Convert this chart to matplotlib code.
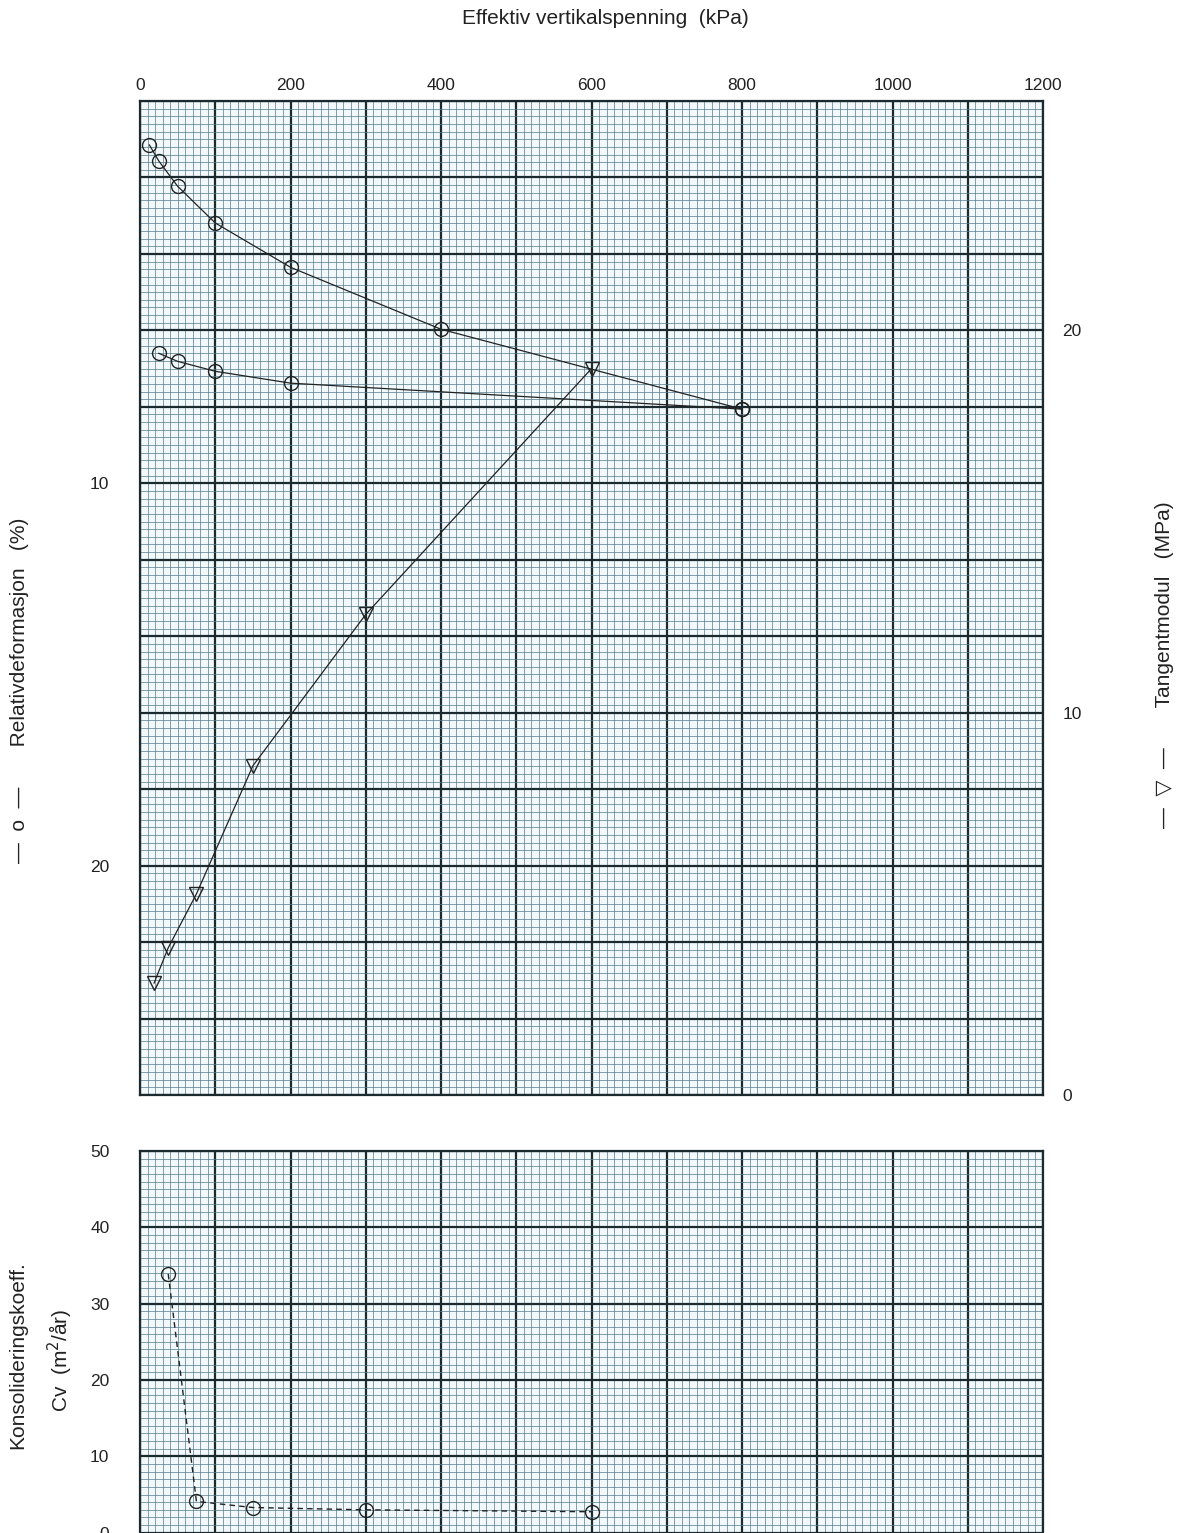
import matplotlib
matplotlib.use("Agg")
import matplotlib.pyplot as plt
from matplotlib.ticker import MultipleLocator, FixedLocator, FuncFormatter

plt.rcParams['font.family'] = ['Liberation Sans', 'DejaVu Sans']

# ---- data ----
stress_load = [12.5, 25, 50, 100, 200, 400, 800]
strain_load = [1.15, 1.57, 2.23, 3.19, 4.35, 5.97, 8.06]
stress_unload = [800, 200, 100, 50, 25]
strain_unload = [8.06, 7.38, 7.07, 6.81, 6.60]

stress_mod = [600, 300, 150, 75, 37.5, 18.75]
tangent_mod = [19.0, 12.57, 8.61, 5.26, 3.85, 2.93]

stress_cv = [37.5, 75, 150, 300, 600]
cv_values = [33.9, 4.1, 3.3, 3.0, 2.75]

x_labels = [0, 200, 400, 600, 800, 1000, 1200]
left_labels = [10, 20]
right_labels = [0, 10, 20]
cv_labels = [0, 10, 20, 30, 40, 50]

W, H = 1188, 1533
fig = plt.figure(figsize=(W / 100, H / 100), dpi=100)

bg = '#f3f9fb'
minor_c = '#557d8e'
major_c = '#1b2a2e'
ink = '#222222'
mk = dict(markersize=10, markerfacecolor='none', markeredgecolor=ink, markeredgewidth=1.0)

L, R = 140, 1043


def frac(x0, y0, x1, y1):
    return [x0 / W, 1 - y1 / H, (x1 - x0) / W, (y1 - y0) / H]


def style_grid(ax, xmaj, xmin, ymaj, ymin):
    ax.set_facecolor(bg)
    ax.xaxis.set_major_locator(MultipleLocator(xmaj))
    ax.xaxis.set_minor_locator(MultipleLocator(xmin))
    ax.yaxis.set_major_locator(MultipleLocator(ymaj))
    ax.yaxis.set_minor_locator(MultipleLocator(ymin))
    ax.grid(which='minor', color=minor_c, lw=0.6, alpha=0.85)
    ax.grid(which='major', color=major_c, lw=1.6)
    ax.set_axisbelow(True)
    ax.tick_params(which='both', length=0)
    for s in ax.spines.values():
        s.set_color(major_c)
        s.set_linewidth(1.6)


# ---- top axes ----
ax = fig.add_axes(frac(L, 101, R, 1095))
ax.set_xlim(0, 1200)
ax.set_ylim(26, 0)
style_grid(ax, 100, 10, 2, 0.2)
ax.xaxis.tick_top()
ax.xaxis.set_major_formatter(FuncFormatter(lambda v, p: f"{int(round(v))}" if int(round(v)) in x_labels else ""))
ax.yaxis.set_major_formatter(FuncFormatter(lambda v, p: f"{int(round(v))}" if int(round(v)) in left_labels else ""))
ax.tick_params(axis='x', which='major', labelsize=12.5, pad=6, colors=ink)
ax.tick_params(axis='y', which='major', labelsize=12.5, pad=22, colors=ink)

ax.plot(stress_load, strain_load, '-', color=ink, lw=0.9, marker='o', **mk)
ax.plot(stress_unload, strain_unload, '-', color=ink, lw=0.9, marker='o', **mk)

ax2 = ax.twinx()
ax2.set_ylim(0, 26)
ax2.yaxis.set_major_locator(FixedLocator(right_labels))
ax2.tick_params(axis='y', length=0, labelsize=12.5, pad=14, colors=ink)
for s in ax2.spines.values():
    s.set_visible(False)
ax2.plot(stress_mod, tangent_mod, '-', color=ink, lw=0.9, marker='v', **mk)

# ---- bottom axes ----
bx = fig.add_axes(frac(L, 1151, R, 1548))
bx.set_xlim(0, 1200)
bx.set_ylim(-2, 50)
style_grid(bx, 100, 10, 10, 1)
bx.spines['bottom'].set_visible(False)
bx.yaxis.set_major_locator(FixedLocator(cv_labels))
bx.set_xticklabels([])
bx.tick_params(axis='y', which='major', labelsize=12.5, pad=22, colors=ink)
bx.plot(stress_cv, cv_values, '--', color=ink, lw=1.0, marker='o', dashes=(4, 3), **mk)

# ---- labels ----
fig.text(605 / W, 1 - 18 / H, "Effektiv vertikalspenning  (kPa)", ha='center', va='center',
         fontsize=15, color=ink)
fig.text(20 / W, 1 - 690 / H, "—  o  —       Relativdeformasjon   (%)", rotation=90,
         ha='center', va='center', fontsize=15, color=ink)
fig.text(1165 / W, 1 - 665 / H, "—  ▽  —       Tangentmodul   (MPa)", rotation=90,
         ha='center', va='center', fontsize=15, color=ink,
         family=['Liberation Sans', 'DejaVu Sans'])
fig.text(18 / W, 1 - 1355 / H, "Konsolideringskoeff.", rotation=90,
         ha='center', va='center', fontsize=15, color=ink)
fig.text(60 / W, 1 - 1360 / H, "Cv  (m$^2$/år)", rotation=90,
         ha='center', va='center', fontsize=15, color=ink)

fig.savefig("out.png", dpi=100, facecolor='white')
